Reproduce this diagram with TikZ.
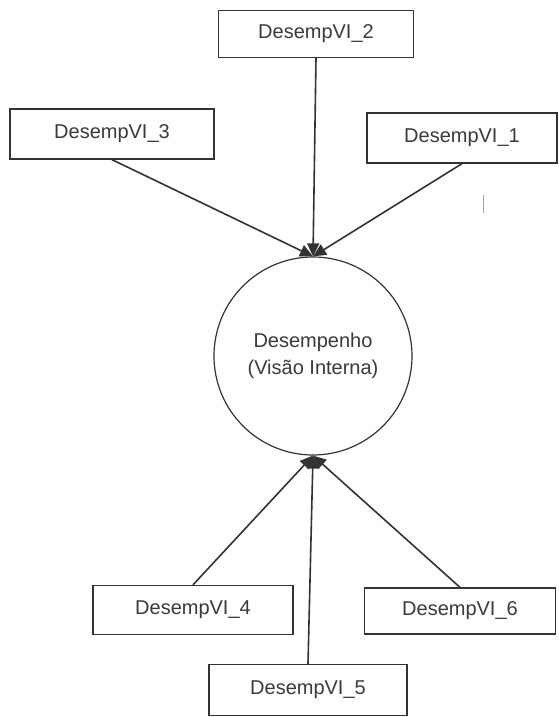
\documentclass[tikz,border=0pt]{standalone}
\usepackage{fontspec}
\setmainfont{Liberation Sans}
\usetikzlibrary{arrows.meta}
\definecolor{inkline}{HTML}{333333}
\definecolor{inktext}{HTML}{3A3A3A}
\begin{document}
\begin{tikzpicture}[x=1pt,y=-1pt,
  indicator/.style={draw=inkline, line width=1.3pt, fill=white, rectangle,
    inner sep=0pt, text=inktext, font=\fontsize{20}{24}\selectfont},
  construct/.style={draw=inkline, line width=1.2pt, fill=white, circle,
    minimum size=198pt, inner sep=0pt, align=center, text=inktext,
    font=\fontsize{20}{27}\selectfont},
  link/.style={draw=inkline, line width=1.6pt,
    -{Triangle[length=13pt,width=12pt]}}]
  \useasboundingbox (0,0) rectangle (559,717);
  \fill[white] (0,0) rectangle (559,717);

  % latent construct
  \node[construct] (c) at (313,356) {Desempenho\\(Visão Interna)};

  % indicators above
  \node[indicator, minimum width=195pt, minimum height=47pt] (v2) at (316,34) {DesempVI\_2};
  \node[indicator, minimum width=204pt, minimum height=50pt] (v3) at (112,134) {DesempVI\_3};
  \node[indicator, minimum width=190pt, minimum height=50pt] (v1) at (462,138) {DesempVI\_1};

  % indicators below
  \node[indicator, minimum width=200pt, minimum height=49pt] (v4) at (193,610) {DesempVI\_4};
  \node[indicator, minimum width=191pt, minimum height=46pt] (v6) at (460,611) {DesempVI\_6};
  \node[indicator, minimum width=198pt, minimum height=51pt] (v5) at (308,690) {DesempVI\_5};

  % indicator-to-construct links
  \draw[link] (v3.south) -- (c.north);
  \draw[link] (v1.south) -- (c.north);
  \draw[link] (v2.south) -- (c.north);
  \draw[link] (v4.north) -- (c.south);
  \draw[link] (v6.north) -- (c.south);
  \draw[link] (v5.north) -- (c.south);

  % stray mark
  \coordinate (m1) at (483,195);
  \coordinate (m2) at (483,213);
  \draw[gray!70, line width=0.8pt] (m1) -- (m2);
\end{tikzpicture}
\end{document}
